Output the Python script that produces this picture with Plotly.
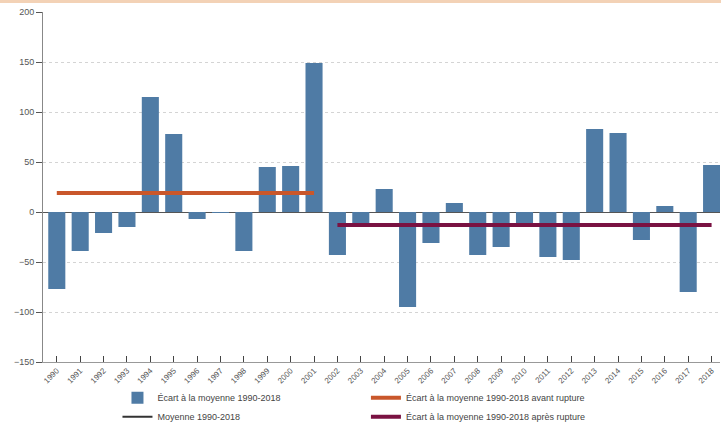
import plotly.graph_objects as go

annees = [str(y) for y in range(1990, 2019)]
ecart = [-77, -39, -21, -15, 115, 78, -7, -1, -39, 45, 46, 149,
         -43, -13, 23, -95, -31, 9, -43, -35, -13, -45, -48, 83, 79,
         -28, 6, -80, 47]
annees_avant = [str(y) for y in range(1990, 2002)]
moy_avant = [19] * len(annees_avant)
annees_apres = [str(y) for y in range(2002, 2019)]
moy_apres = [-13] * len(annees_apres)
moyenne = [0]
y_ticks = [-150, -100, -50, 0, 50, 100, 150, 200]

BLUE = "#4f7ba5"
ORANGE = "#c9572b"
PURPLE = "#7a1242"
FONT = "Liberation Sans"

fig = go.Figure()
fig.add_trace(go.Bar(x=annees, y=ecart, marker_color=BLUE, marker_line_width=0,
                     name="Écart à la moyenne 1990-2018", legend="legend"))
fig.add_trace(go.Scatter(x=annees[:1], y=moyenne, mode="lines",
                         line=dict(color="#333333", width=2),
                         name="Moyenne 1990-2018", legend="legend"))
fig.add_trace(go.Scatter(x=annees_avant, y=moy_avant, mode="lines",
                         line=dict(color=ORANGE, width=4),
                         name="Écart à la moyenne 1990-2018 avant rupture", legend="legend2"))
fig.add_trace(go.Scatter(x=annees_apres, y=moy_apres, mode="lines",
                         line=dict(color=PURPLE, width=4),
                         name="Écart à la moyenne 1990-2018 après rupture", legend="legend2"))

fig.add_annotation(x=annees_avant[0], y=moy_avant[0], text=str(moy_avant[0]),
                   showarrow=False, xanchor="center", yanchor="bottom", yshift=4, xshift=-2,
                   font=dict(family=FONT, size=9, color=ORANGE))
fig.add_annotation(x=annees_apres[-1], y=moy_apres[-1], text=str(moy_apres[-1]),
                   showarrow=False, xanchor="left", yanchor="top", yshift=-6, xshift=-7,
                   font=dict(family=FONT, size=9, color="#6a4a5a"))

fig.add_shape(type="rect", xref="paper", yref="paper",
              x0=-0.07, x1=1.01, y0=1.0257, y1=1.04,
              fillcolor="#f3d2b6", line_width=0, layer="above")

fig.update_layout(
    width=721, height=432,
    margin=dict(l=43, r=1, t=12, b=70),
    paper_bgcolor="white", plot_bgcolor="white",
    bargap=0.27,
    font=dict(family=FONT, size=9, color="#444444"),
    showlegend=True,
    legend=dict(x=0.11, y=-0.198, xanchor="left", yanchor="bottom",
                font=dict(family=FONT, size=9, color="#444444"),
                itemwidth=30, tracegroupgap=0, bgcolor="rgba(0,0,0,0)"),
    legend2=dict(x=0.477, y=-0.198, xanchor="left", yanchor="bottom",
                 font=dict(family=FONT, size=9, color="#444444"),
                 itemwidth=30, tracegroupgap=0, bgcolor="rgba(0,0,0,0)"),
    xaxis=dict(type="category", range=[-0.59, 28.36], automargin=False,
               showline=True, linecolor="#999999", linewidth=1,
               ticks="inside", ticklen=6, tickcolor="#444444",
               tickangle=-45, tickfont=dict(family=FONT, size=8, color="#555555"),
               showgrid=False, anchor="y"),
    yaxis=dict(range=[-150, 200], tickvals=y_ticks, automargin=False,
               showline=True, linecolor="#888888", linewidth=1,
               ticks="outside", ticklen=6, tickcolor="#555555",
               tickfont=dict(family=FONT, size=9, color="#555555"),
               showgrid=True, gridcolor="#d4d4d4", griddash="dot", gridwidth=1,
               zeroline=True, zerolinecolor="#555555", zerolinewidth=1),
)

fig.write_html("out.html", config={"displayModeBar": False},
               post_script="document.body.style.margin='0';document.body.style.overflow='hidden';")
